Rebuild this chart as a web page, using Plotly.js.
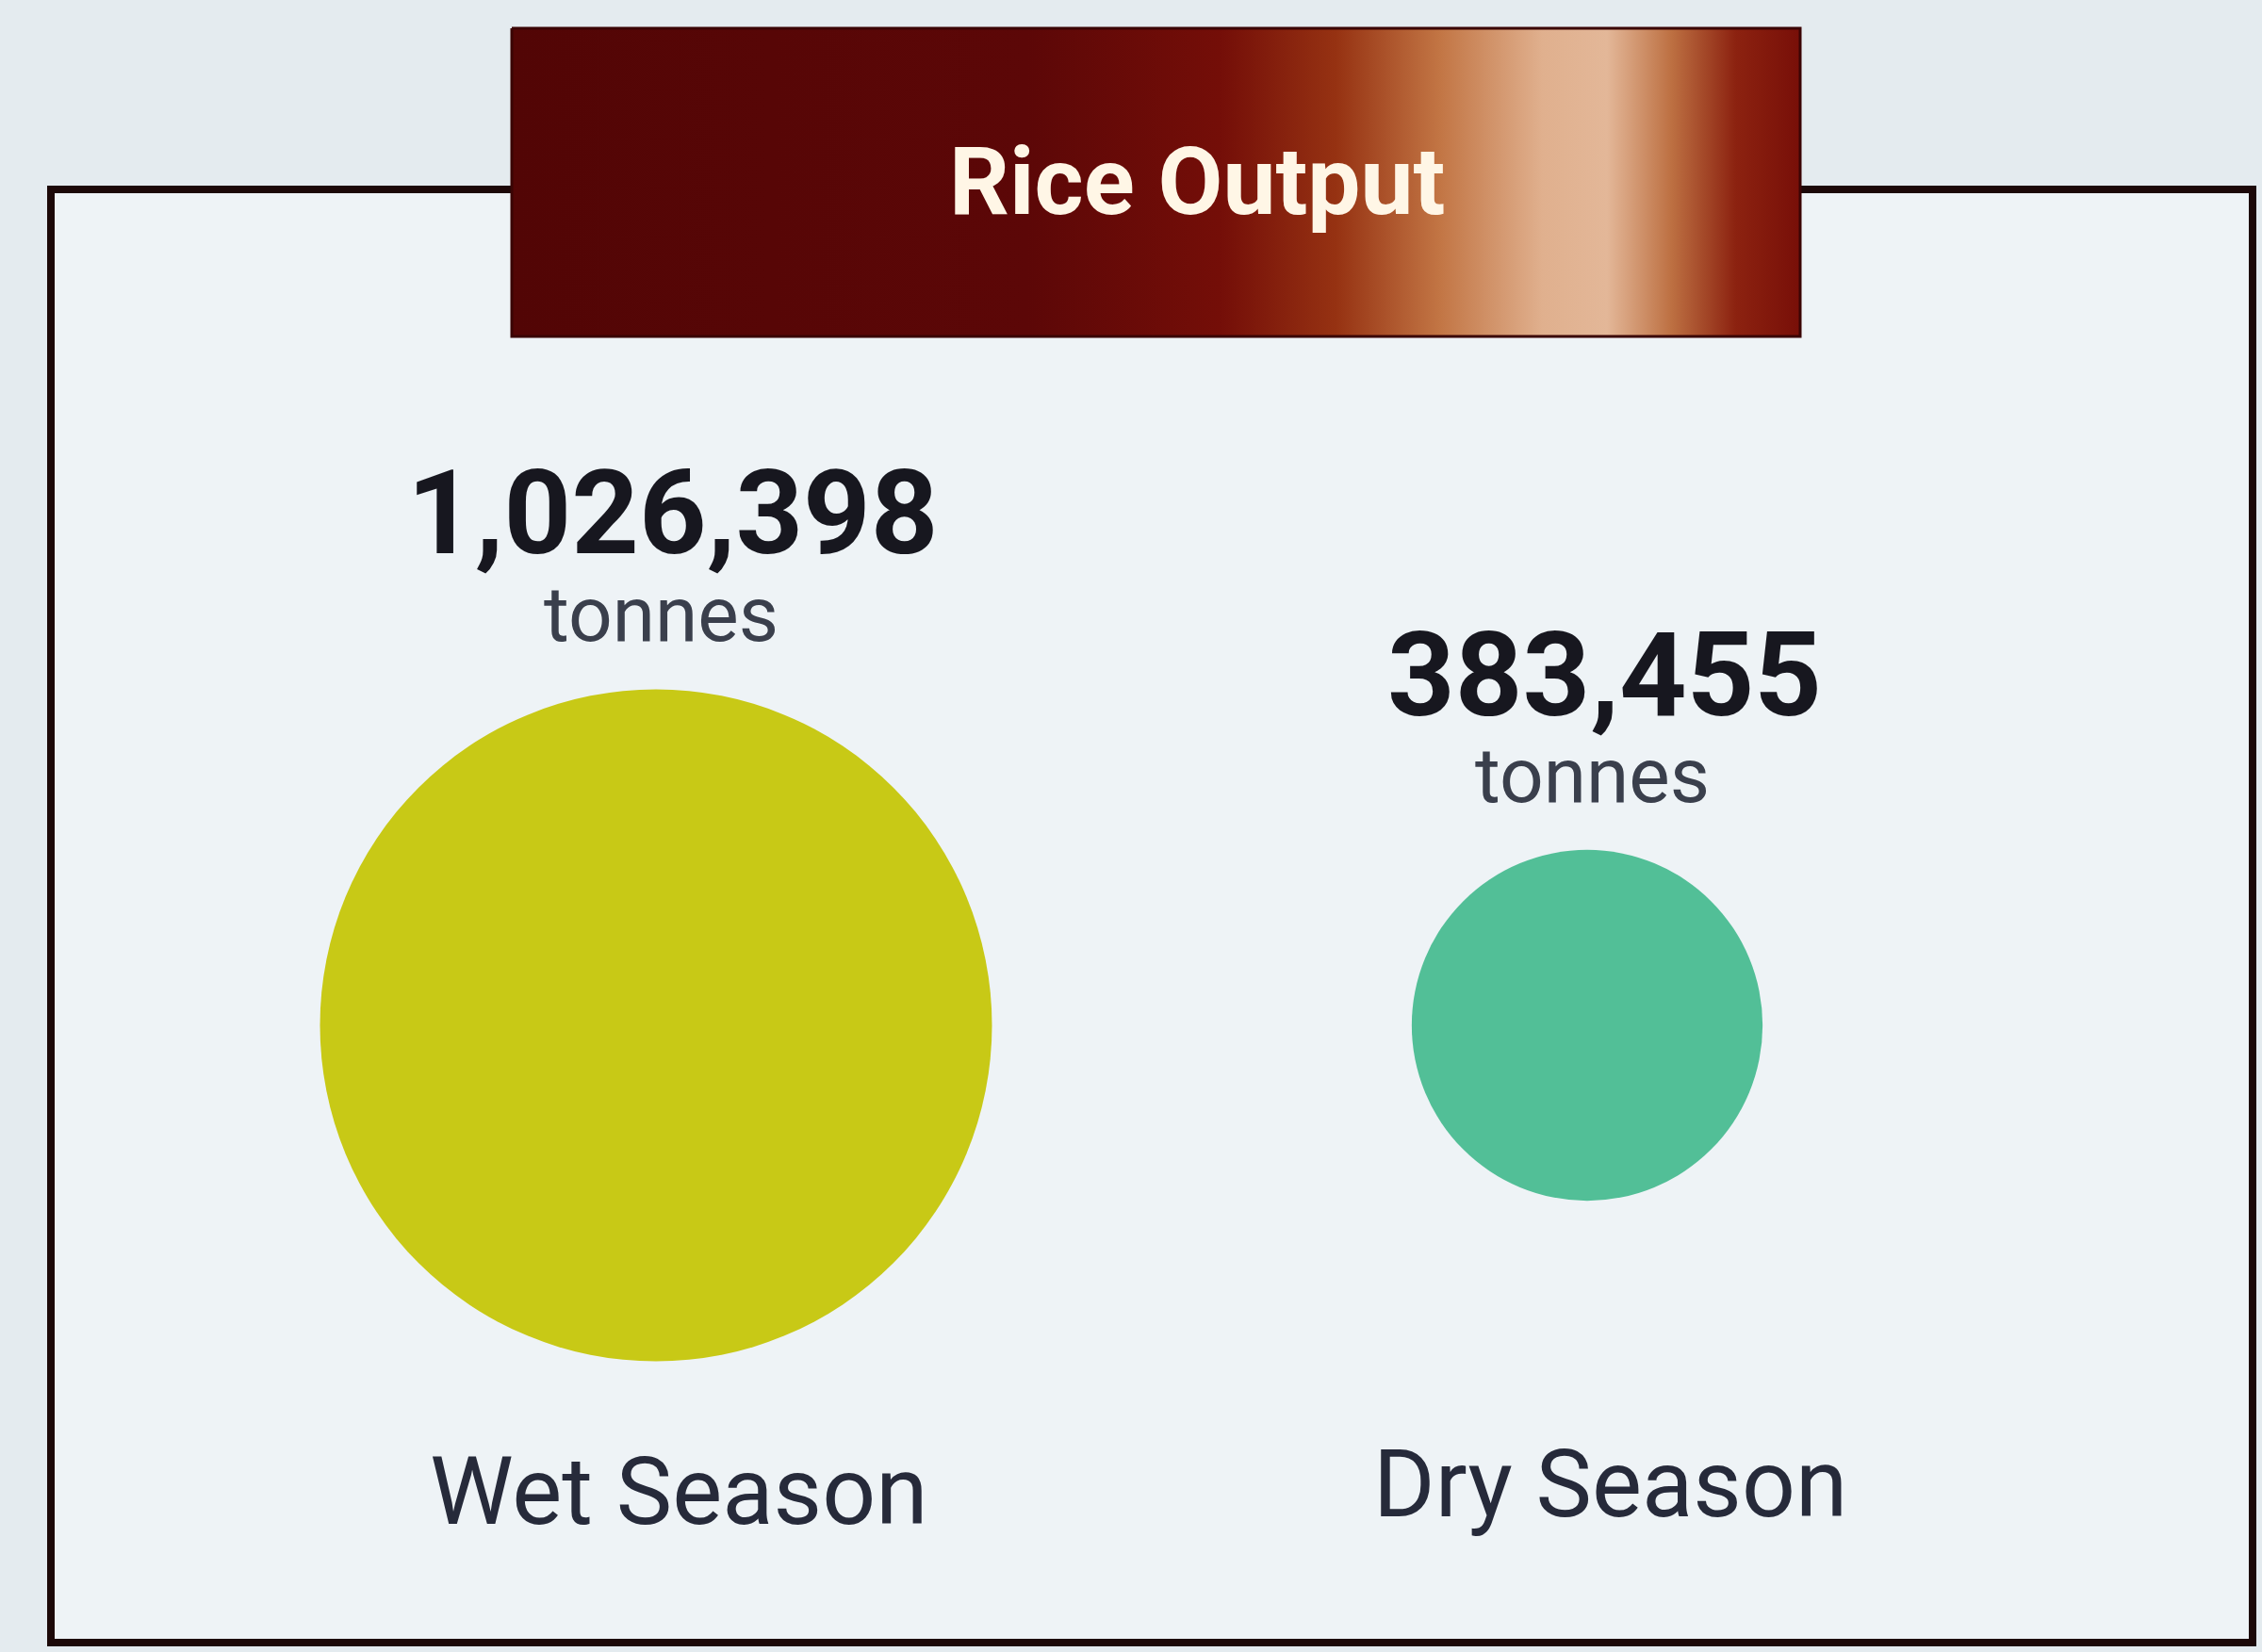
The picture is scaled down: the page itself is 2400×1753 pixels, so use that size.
<!DOCTYPE html>
<html>
<head>
<meta charset="utf-8">
<script src="https://cdn.plot.ly/plotly-3.0.1.min.js"></script>
<style>html,body{margin:0;padding:0;background:#e4ebef;}</style>
</head>
<body>
<div id="chart" style="width:2400px;height:1753px;"></div>
<script>
// ---- data ----
const chartTitle = "Rice Output";
const seasons = ["Wet Season", "Dry Season"];
const outputTonnes = [1026398, 383455];
const unitLabel = "tonnes";
const seasonColors = ["#c8c916", "#52bf97"];

// ---- layout helpers (pixels -> paper) ----
const W = 2400, H = 1753;
const py = p => 1 - p / H;
const px = p => p / W;

const maxV = Math.max(...outputTonnes);
const maxDiam = 713;
const sizes = outputTonnes.map(v => maxDiam * Math.pow(v / maxV, 0.66));

const circles = {
  type: "scatter",
  mode: "markers",
  x: seasons,
  y: seasons.map(() => 0),
  marker: { size: sizes, sizemode: "diameter", color: seasonColors, line: { width: 0 }, opacity: 1 },
  hoverinfo: "skip",
  showlegend: false,
  xaxis: "x", yaxis: "y"
};

const titleBox = {
  type: "scatter",
  mode: "lines",
  x: [543, 1910, 1910, 543, 543],
  y: [30, 30, 357, 357, 30],
  fill: "toself",
  line: { color: "#3a0404", width: 3 },
  fillcolor: "#5c0707",
  fillgradient: {
    type: "horizontal",
    colorscale: [
      [0.0, "#520505"], [0.40, "#5c0707"], [0.55, "#740e08"], [0.64, "#963212"],
      [0.72, "#c27544"], [0.80, "#e0b08e"], [0.85, "#e3b798"], [0.90, "#bd7042"],
      [0.95, "#8c2210"], [1.0, "#780f08"]
    ]
  },
  hoverinfo: "skip",
  showlegend: false,
  xaxis: "x2", yaxis: "y2"
};

const annotations = [];
annotations.push({
  xref: "paper", yref: "paper", x: px(1270), y: py(193), xanchor: "center", yanchor: "middle",
  text: "<b>" + chartTitle + "</b>", showarrow: false,
  font: { family: "Roboto", size: 100, color: "#fff6e6" }
});
const numCenters = [544, 716];
const unitCenters = [652, 823];
const labelCenters = [1582, 1574];
seasons.forEach((s, i) => {
  annotations.push({
    xref: "x", yref: "paper", x: s, y: py(numCenters[i]), xanchor: "center", yanchor: "middle",
    xshift: 18, text: "<b>" + outputTonnes[i].toLocaleString("en-US") + "</b>", showarrow: false,
    font: { family: "Roboto", size: 125, color: "#17171f" }
  });
  annotations.push({
    xref: "x", yref: "paper", x: s, y: py(unitCenters[i]), xanchor: "center", yanchor: "middle",
    xshift: 5, text: unitLabel, showarrow: false,
    font: { family: "Roboto", size: 82, color: "#3a3f4c" }
  });
  annotations.push({
    xref: "x", yref: "paper", x: s, y: py(labelCenters[i]), xanchor: "center", yanchor: "middle",
    xshift: 24, text: s, showarrow: false,
    font: { family: "Roboto", size: 100, color: "#262a3a" }
  });
});

const yc = 1 - 1088 / H; // circle centre as fraction of height from bottom

const layout = {
  width: W, height: H,
  margin: { l: 0, r: 0, t: 0, b: 0, pad: 0 },
  paper_bgcolor: "#e4ebef",
  plot_bgcolor: "rgba(0,0,0,0)",
  showlegend: false,
  xaxis: {
    type: "category", categoryorder: "array", categoryarray: seasons,
    range: [-696 / 988, (W - 696) / 988],
    visible: false, fixedrange: true, domain: [0, 1]
  },
  yaxis: { range: [-yc, 1 - yc], domain: [0, 1], visible: false, fixedrange: true },
  xaxis2: { range: [0, W], visible: false, overlaying: "x", anchor: "y2" },
  yaxis2: { range: [H, 0], visible: false, overlaying: "y", anchor: "x2" },
  shapes: [{
    type: "rect", xref: "paper", yref: "paper", layer: "below",
    x0: px(54), x1: px(2390), y0: py(201), y1: py(1743),
    line: { color: "#1c0808", width: 8 }, fillcolor: "#eef3f6"
  }],
  annotations: annotations
};

Plotly.newPlot("chart", [circles, titleBox], layout, { staticPlot: true, displayModeBar: false });
</script>
</body>
</html>
